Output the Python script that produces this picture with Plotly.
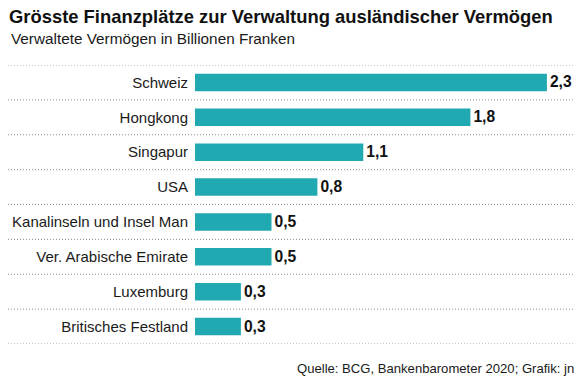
import plotly.graph_objects as go

categories = ["Schweiz", "Hongkong", "Singapur", "USA", "Kanalinseln und Insel Man",
              "Ver. Arabische Emirate", "Luxemburg", "Britisches Festland"]
values = [2.3, 1.8, 1.1, 0.8, 0.5, 0.5, 0.3, 0.3]
value_labels = [f"{v:.1f}".replace(".", ",") for v in values]

title = "Grösste Finanzplätze zur Verwaltung ausländischer Vermögen"
subtitle = "Verwaltete Vermögen in Billionen Franken"
source = "Quelle: BCG, Bankenbarometer 2020; Grafik: jn"

# page has an 8px body margin; figure coords = page coords - 8
OFF = 8
W, H = 582 - OFF, 383 - OFF
ML, MR, MT, MB = 195 - OFF, 12, 65 - OFF, 39
pw = W - ML - MR
ph = H - MT - MB


def px(xpage):
    return (xpage - OFF - ML) / pw


def py(ypage):
    return (H - MB - (ypage - OFF)) / ph


fig = go.Figure(go.Bar(
    x=values, y=categories, orientation="h",
    marker=dict(color="#20a9b1", line=dict(width=0)),
    width=0.5,
    text=value_labels, textposition="outside", cliponaxis=False,
    textfont=dict(family="Liberation Sans, Roboto, sans-serif", size=17, color="#111111", weight="bold"),
))

shapes = []
for i in range(len(categories) + 1):
    shapes.append(dict(type="line", xref="paper", yref="y",
                       x0=px(8), x1=px(575),
                       y0=i - 0.5, y1=i - 0.5,
                       line=dict(color="#8f8f8f", width=1, dash="1px,2px"), layer="below"))

fig.update_layout(
    width=W, height=H,
    margin=dict(l=ML, r=MR, t=MT, b=MB, autoexpand=False),
    plot_bgcolor="white", paper_bgcolor="white",
    showlegend=False,
    xaxis=dict(range=[0, pw / 153.0], visible=False, fixedrange=True),
    yaxis=dict(autorange=False, range=[len(categories) - 0.5, -0.5],
               showgrid=False, zeroline=False, showline=False, ticks="",
               ticklabelstandoff=6, automargin=False,
               tickfont=dict(family="Liberation Sans, Arial, sans-serif", size=15, color="#1a1a1a")),
    shapes=shapes,
    bargap=0.5,
    annotations=[
        dict(text="<b>" + title + "</b>", x=px(8), y=py(17), xref="paper", yref="paper",
             xanchor="left", yanchor="middle", showarrow=False, borderpad=0,
             font=dict(family="Liberation Sans, Arial, sans-serif", size=18.4, color="#111111")),
        dict(text=subtitle, x=px(9), y=py(38), xref="paper", yref="paper",
             xanchor="left", yanchor="middle", showarrow=False,
             font=dict(family="Liberation Sans, Arial, sans-serif", size=15.3, color="#1a1a1a")),
        dict(text=source, x=px(576), y=py(368), xref="paper", yref="paper",
             xanchor="right", yanchor="middle", showarrow=False,
             font=dict(family="Liberation Sans, Arial, sans-serif", size=13.1, color="#1a1a1a")),
    ],
)
fig.write_html("out.html")
